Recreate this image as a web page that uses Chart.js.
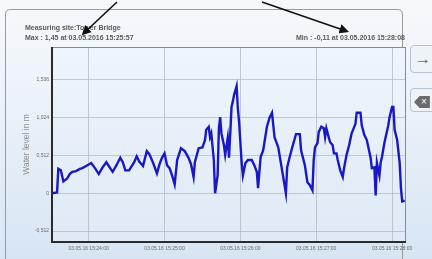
<!DOCTYPE html>
<html>
<head>
<meta charset="utf-8">
<script src="https://cdn.jsdelivr.net/npm/chart.js@4"></script>
<style>
  html, body { margin: 0; padding: 0; }
  body {
    width: 432px; height: 259px; overflow: hidden; position: relative;
    background: linear-gradient(180deg, #f6f9fc 0%, #e6eff8 55%, #d7e5f3 100%);
    font-family: "Liberation Sans", Arial, sans-serif;
  }
  #panel {
    position: absolute; left: 5px; top: 9px; width: 398px; height: 262px;
    border: 1px solid #9a9a9a; border-radius: 5px; box-sizing: border-box;
  }
  .info { position: absolute; font-size: 7px; font-weight: bold; color: #5a5a5a; white-space: nowrap; }
  #site { left: 25px; top: 24px; }
  #max { left: 25px; top: 34px; }
  #min { right: 27px; top: 34px; }
  .btn {
    position: absolute; left: 410px; width: 30px; border: 1px solid #b8c4d0;
    border-radius: 4px; background: #eef3f8; color: #666; font-size: 16px;
    line-height: 22px;
  }
  #wrap { position: absolute; left: 0; top: 0; width: 432px; height: 259px; }
  svg { position: absolute; left: 0; top: 0; }
</style>
</head>
<body>
<div id="panel"></div>
<div class="btn" style="top:45px;height:26px;line-height:26px;text-indent:4px;">&rarr;</div>
<div class="btn" style="top:88px;height:22px;"><span style="display:inline-block;background:#6b6b6b;color:#fff;font-size:10px;line-height:12px;padding:0 3px 0 7px;margin:5px 0 0 3px;clip-path:polygon(35% 0,100% 0,100% 100%,35% 100%,0 50%);">&times;</span></div>
<div id="wrap"><canvas id="chart" width="432" height="259"></canvas></div>
<div class="info" id="site">Measuring site:Tower Bridge</div>
<div class="info" id="max"></div>
<div class="info" id="min"></div>
<svg width="432" height="259">
  <defs>
    <marker id="head" markerWidth="6" markerHeight="6" refX="4" refY="3" orient="auto">
      <path d="M0,0 L6,3 L0,6 z" fill="#111"/>
    </marker>
  </defs>
  <line x1="117" y1="2" x2="84" y2="33" stroke="#111" stroke-width="1.6" marker-end="url(#head)"/>
  <line x1="262" y1="2" x2="346" y2="31" stroke="#111" stroke-width="1.6" marker-end="url(#head)"/>
</svg>
<script>
const DATE_LABEL = '03.05.16';
const DATE_LONG = '03.05.2016';

const times = [
  '15:23:31', '15:23:35', '15:23:36', '15:23:38', '15:23:40', '15:23:43', '15:23:45', '15:23:47',
  '15:23:50', '15:23:53', '15:23:55', '15:23:58', '15:24:02', '15:24:05', '15:24:08', '15:24:11',
  '15:24:14', '15:24:17', '15:24:19', '15:24:22', '15:24:25', '15:24:27', '15:24:29', '15:24:32',
  '15:24:36', '15:24:38', '15:24:40', '15:24:43', '15:24:46', '15:24:48', '15:24:51', '15:24:54',
  '15:24:56', '15:24:58', '15:25:00', '15:25:02', '15:25:04', '15:25:06', '15:25:08', '15:25:10',
  '15:25:13', '15:25:16', '15:25:19', '15:25:21', '15:25:23', '15:25:24', '15:25:27', '15:25:30',
  '15:25:32', '15:25:33', '15:25:35', '15:25:36', '15:25:37', '15:25:39', '15:25:40', '15:25:42',
  '15:25:43', '15:25:44', '15:25:45', '15:25:47', '15:25:48', '15:25:50', '15:25:51', '15:25:52',
  '15:25:53', '15:25:54', '15:25:55', '15:25:57', '15:25:58', '15:25:59', '15:26:00', '15:26:01',
  '15:26:02', '15:26:04', '15:26:06', '15:26:09', '15:26:11', '15:26:13', '15:26:14', '15:26:16',
  '15:26:18', '15:26:21', '15:26:23', '15:26:25', '15:26:27', '15:26:30', '15:26:33', '15:26:36',
  '15:26:37', '15:26:39', '15:26:41', '15:26:44', '15:26:47', '15:26:48', '15:26:51', '15:26:53',
  '15:26:55', '15:26:57', '15:26:58', '15:26:59', '15:27:01', '15:27:02', '15:27:04', '15:27:06',
  '15:27:07', '15:27:08', '15:27:10', '15:27:11', '15:27:13', '15:27:14', '15:27:16', '15:27:17',
  '15:27:19', '15:27:21', '15:27:22', '15:27:24', '15:27:26', '15:27:28', '15:27:31', '15:27:32',
  '15:27:35', '15:27:36', '15:27:38', '15:27:40', '15:27:43', '15:27:44', '15:27:46', '15:27:47',
  '15:27:48', '15:27:50', '15:27:51', '15:27:52', '15:27:54', '15:27:57', '15:27:58', '15:28:00',
  '15:28:01', '15:28:02', '15:28:04', '15:28:06', '15:28:07', '15:28:08', '15:28:10'
];

const waterLevel = [
  0.00, 0.01, 0.33, 0.31, 0.16, 0.20, 0.26, 0.29,
  0.30, 0.33, 0.34, 0.37, 0.41, 0.34, 0.26, 0.35,
  0.42, 0.34, 0.29, 0.38, 0.48, 0.42, 0.31, 0.31,
  0.42, 0.50, 0.43, 0.37, 0.57, 0.53, 0.41, 0.27,
  0.39, 0.48, 0.54, 0.38, 0.34, 0.24, 0.12, 0.45,
  0.61, 0.57, 0.48, 0.39, 0.22, 0.42, 0.61, 0.62,
  0.72, 0.86, 0.90, 0.76, 0.81, 0.45, 0.00, 0.24,
  0.88, 1.03, 0.81, 0.65, 0.52, 0.75, 0.48, 0.81,
  1.17, 1.24, 1.33, 1.45, 1.15, 0.96, 0.69, 0.41,
  0.24, 0.41, 0.45, 0.45, 0.38, 0.29, 0.07, 0.49,
  0.58, 0.90, 1.02, 1.09, 0.76, 0.62, 0.31, 0.00,
  0.35, 0.49, 0.62, 0.80, 0.80, 0.58, 0.38, 0.15,
  0.11, 0.04, 0.45, 0.62, 0.68, 0.83, 0.90, 0.88,
  0.76, 0.88, 0.75, 0.69, 0.65, 0.54, 0.54, 0.45,
  0.31, 0.22, 0.34, 0.52, 0.65, 0.81, 0.94, 1.09,
  1.09, 0.92, 0.79, 0.72, 0.48, 0.34, 0.35, -0.03,
  0.41, 0.24, 0.42, 0.49, 0.69, 0.92, 1.03, 1.17,
  1.17, 0.86, 0.72, 0.41, 0.07, -0.11, -0.10
];

const yTicks = [-0.512, 0, 0.512, 1.024, 1.536];
const xTicks = ['15:24:00', '15:25:00', '15:26:00', '15:27:00', '15:28:00'];
const xRange = ['15:23:31', '15:28:11'];
const yRange = [-0.66, 1.98];

function toSec(hms) {
  const [h, m, s] = hms.split(':').map(Number);
  return h * 3600 + m * 60 + s;
}

function secLabel(sec) {
  const pad = n => String(n).padStart(2, '0');
  return `${pad(Math.floor(sec / 3600))}:${pad(Math.floor(sec / 60) % 60)}:${pad(sec % 60)}`;
}

function deNumber(v, d) {
  return (d === undefined ? String(v) : v.toFixed(d)).replace('.', ',');
}

// max / min readout
let iMax = 0, iMin = 0;
waterLevel.forEach((v, i) => {
  if (v > waterLevel[iMax]) iMax = i;
  if (v < waterLevel[iMin]) iMin = i;
});
document.getElementById('max').textContent = `Max : ${deNumber(waterLevel[iMax], 2)} at ${DATE_LONG} ${times[iMax]}`;
document.getElementById('min').textContent = `Min : ${deNumber(waterLevel[iMin], 2)} at ${DATE_LONG} ${times[iMin]}`;

const points = times.map((t, i) => ({ x: toSec(t), y: waterLevel[i] }));

const plotBg = {
  id: 'plotBg',
  beforeDraw(chart) {
    const { ctx, chartArea: a } = chart;
    ctx.save();
    const g = ctx.createLinearGradient(0, a.top, 0, a.bottom);
    g.addColorStop(0, '#eef5fc');
    g.addColorStop(1, '#dfeaf6');
    ctx.fillStyle = g;
    ctx.fillRect(a.left, a.top, a.right - a.left, a.bottom - a.top);
    ctx.restore();
  },
  afterDraw(chart) {
    const { ctx, chartArea: a } = chart;
    ctx.save();
    ctx.strokeStyle = '#8a8a8a';
    ctx.lineWidth = 1;
    ctx.strokeRect(a.left + 0.5, a.top + 0.5, a.right - a.left - 1, a.bottom - a.top - 1);
    ctx.strokeStyle = '#2b2b2b';
    ctx.lineWidth = 2;
    ctx.beginPath();
    ctx.moveTo(a.left, a.top);
    ctx.lineTo(a.left, a.bottom);
    ctx.lineTo(a.right, a.bottom);
    ctx.stroke();
    ctx.restore();
  }
};

new Chart(document.getElementById('chart'), {
  type: 'line',
  data: {
    datasets: [{
      data: points,
      borderColor: '#1818c4',
      borderWidth: 2.4,
      pointRadius: 0,
      tension: 0,
      fill: false
    }]
  },
  options: {
    responsive: false,
    animation: false,
    layout: { padding: { left: 19, top: 47, right: 26, bottom: 0 } },
    plugins: { legend: { display: false }, tooltip: { enabled: false } },
    scales: {
      x: {
        type: 'linear',
        min: toSec(xRange[0]),
        max: toSec(xRange[1]),
        afterBuildTicks: s => { s.ticks = xTicks.map(t => ({ value: toSec(t) })); },
        afterFit: s => { s.height = 17; },
        border: { display: false },
        grid: { color: '#b4bcc5', lineWidth: 0.8, borderDash: [1, 2], tickLength: 0 },
        ticks: {
          autoSkip: false, maxRotation: 0, padding: 4,
          color: '#6a6a6a', font: { size: 5, family: 'Liberation Sans' },
          callback: v => `${DATE_LABEL} ${secLabel(v)}`
        }
      },
      y: {
        min: yRange[0],
        max: yRange[1],
        afterBuildTicks: s => { s.ticks = yTicks.map(v => ({ value: v })); },
        afterFit: s => { s.width = 33; },
        border: { display: false },
        grid: { color: '#b4bcc5', lineWidth: 0.8, borderDash: [1, 2], tickLength: 0 },
        title: {
          display: true, text: 'Water level in m', color: '#8c8c8c',
          font: { size: 8.5, family: 'Liberation Sans' }, padding: { top: 3, bottom: 0 }
        },
        ticks: {
          padding: 3, color: '#6a6a6a', font: { size: 5, family: 'Liberation Sans' },
          callback: v => deNumber(v)
        }
      }
    }
  },
  plugins: [plotBg]
});
</script>
</body>
</html>
